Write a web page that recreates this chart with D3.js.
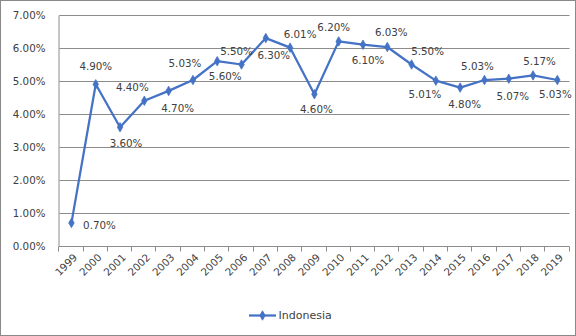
<!DOCTYPE html>
<html>
<head>
<meta charset="utf-8">
<script src="https://cdn.jsdelivr.net/npm/d3@7"></script>
<style>
  html, body { margin: 0; padding: 0; background: #fff; }
  svg { display: block; font-family: "DejaVu Sans", Verdana, sans-serif; }
</style>
</head>
<body>
<svg id="chart" width="576" height="336"></svg>
<script>
// Annual growth rate, Indonesia (percent)
const years = ["1999","2000","2001","2002","2003","2004","2005","2006","2007","2008",
               "2009","2010","2011","2012","2013","2014","2015","2016","2017","2018","2019"];
const growth = [0.70, 4.90, 3.60, 4.40, 4.70, 5.03, 5.60, 5.50, 6.30, 6.01,
                4.60, 6.20, 6.10, 6.03, 5.50, 5.01, 4.80, 5.03, 5.07, 5.17, 5.03];
const yTicks = [0, 1, 2, 3, 4, 5, 6, 7];
const seriesName = "Indonesia";

// Hand-placed data label offsets from each marker, in pixels [dx, dy]
const labelOffsets = [
  [28, 2], [0, -18], [6, 16], [-12, -14], [9, 17], [-8, -17], [8, 15.5],
  [-5, -13], [8, 17], [10, -13.5], [2, 15], [-5, -14], [5, 16], [4, -15],
  [16, -13], [-11, 14], [4.5, 17], [-7, -14], [4, 18], [6.5, -14.5], [-2, 14.5]
];

const W = 576, H = 336;
const margin = { left: 59.3, right: 576 - 569.5, top: 15, bottom: 336 - 246 };
const svg = d3.select("#chart");
const blue = "#4472C4", grid = "#8c8c8c";

// outer frame
svg.append("rect").attr("x", 0.5).attr("y", 0.5).attr("width", W - 1).attr("height", H - 1)
   .attr("fill", "#fff").attr("stroke", "#898989").attr("stroke-width", 1);

const x = d3.scaleBand().domain(years).range([margin.left, W - margin.right]).paddingInner(0).paddingOuter(0);
const y = d3.scaleLinear().domain([0, 7]).range([H - margin.bottom, margin.top]);

// horizontal gridlines
svg.append("g").selectAll("line").data(yTicks.filter(d => d > 0)).join("line")
   .attr("x1", margin.left).attr("x2", W - margin.right)
   .attr("y1", d => Math.round(y(d)) + 0.5).attr("y2", d => Math.round(y(d)) + 0.5)
   .attr("stroke", grid).attr("stroke-width", 1);

// y axis
const yAxis = svg.append("g").attr("transform", `translate(${Math.round(margin.left) - 0.5},0)`)
  .call(d3.axisLeft(y).tickValues(yTicks).tickSize(0).tickPadding(13)
        .tickFormat(d => d3.format(".2f")(d) + "%"));
yAxis.select(".domain").attr("stroke", grid);
yAxis.selectAll("text").attr("font-size", 10.3).attr("fill", "#404040")
  .attr("font-family", "DejaVu Sans, Verdana, sans-serif")
  .attr("dy", "0.36em");

// x axis with ticks on category boundaries
const baseY = Math.round(y(0)) + 0.5;
svg.append("line").attr("x1", margin.left - 0.5).attr("x2", W - margin.right)
   .attr("y1", baseY).attr("y2", baseY).attr("stroke", grid);
const bounds = years.map(d => x(d)).concat([x(years[years.length - 1]) + x.bandwidth()]);
svg.append("g").selectAll("line").data(bounds).join("line")
   .attr("x1", d => Math.round(d) - 0.5).attr("x2", d => Math.round(d) - 0.5)
   .attr("y1", baseY).attr("y2", baseY + 5).attr("stroke", grid);

svg.append("g").selectAll("text").data(years).join("text")
   .attr("transform", d => `translate(${x(d) + x.bandwidth() / 2 + 4},${baseY + 9}) rotate(-45)`)
   .attr("text-anchor", "end").attr("font-size", 10.3).attr("fill", "#404040")
   .attr("dy", "0.35em")
   .text(d => d);

// series line and markers
const cx = d => x(d) + x.bandwidth() / 2;
const pts = years.map((d, i) => [cx(d), y(growth[i])]);
svg.append("path").datum(pts)
   .attr("d", d3.line())
   .attr("fill", "none").attr("stroke", blue).attr("stroke-width", 2.25)
   .attr("stroke-linejoin", "round");

const diamond = d3.symbol().type(d3.symbolDiamond).size(26);
svg.append("g").selectAll("path").data(pts).join("path")
   .attr("transform", d => `translate(${d[0]},${d[1]})`)
   .attr("d", diamond).attr("fill", blue).attr("stroke", blue).attr("stroke-width", 0.75);

// data labels
svg.append("g").selectAll("text").data(growth).join("text")
   .attr("x", (d, i) => pts[i][0] + labelOffsets[i][0])
   .attr("y", (d, i) => pts[i][1] + labelOffsets[i][1])
   .attr("text-anchor", "middle").attr("dy", "0.36em")
   .attr("font-size", 10.3).attr("fill", "#404040")
   .text(d => d3.format(".2f")(d) + "%");

// legend
const ly = 315.5;
svg.append("line").attr("x1", 249).attr("x2", 276).attr("y1", ly).attr("y2", ly)
   .attr("stroke", blue).attr("stroke-width", 2.25);
svg.append("path").attr("transform", `translate(262.5,${ly})`).attr("d", diamond)
   .attr("fill", blue).attr("stroke", blue).attr("stroke-width", 0.75);
svg.append("text").attr("x", 278.5).attr("y", ly).attr("dy", "0.36em")
   .attr("font-size", 11).attr("fill", "#404040").text(seriesName);
</script>
</body>
</html>
